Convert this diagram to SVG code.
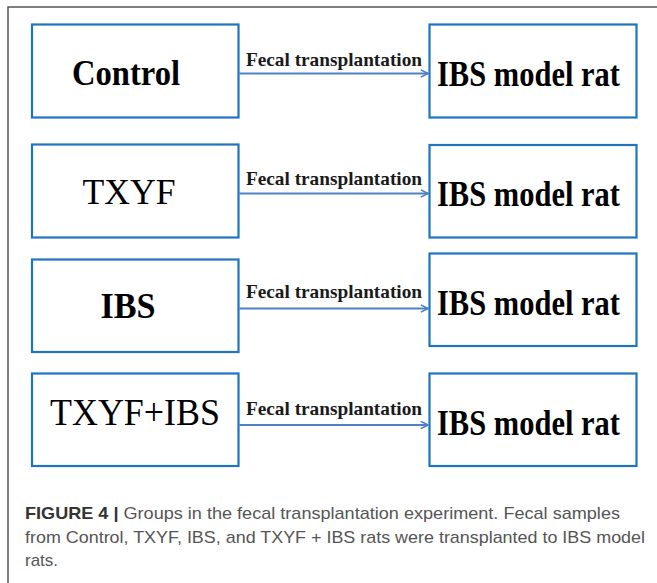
<svg xmlns="http://www.w3.org/2000/svg" width="657" height="583" viewBox="0 0 657 583">
<defs>
<style>
.box{fill:#fff;stroke:#1f74c0;stroke-width:2.2}
.src{font-family:"Liberation Serif","Times New Roman",serif;fill:#000;text-anchor:middle}
.dst{font-family:"Liberation Serif","Times New Roman",serif;font-weight:bold;font-size:35px;fill:#000}
.lbl{font-family:"Liberation Serif","Times New Roman",serif;font-weight:bold;font-size:19px;fill:#1a1a1a}
.arr{stroke:#4f81c4;stroke-width:2;fill:none;marker-end:url(#ah)}
.cap{font-family:"Liberation Sans",Arial,sans-serif;font-size:17px;fill:#555}
</style>
<marker id="ah" viewBox="0 0 10 10" refX="9" refY="5" markerWidth="4.5" markerHeight="4.5" orient="auto" markerUnits="strokeWidth">
<path d="M1,1 L9,5 L1,9" fill="none" stroke="#4f81c4" stroke-width="1.8"/>
</marker>
</defs>
<rect width="657" height="583" fill="#fff"/>
<path d="M8,583 V7 H657" fill="none" stroke="#555" stroke-width="1.5"/>

<g id="control">
<rect class="box" x="32" y="24.5" width="206.5" height="93"/>
<text class="src" x="126" y="85" font-size="35" font-weight="bold" textLength="108" lengthAdjust="spacingAndGlyphs">Control</text>
</g>
<g id="txyf">
<rect class="box" x="32" y="144.5" width="206.5" height="93"/>
<text class="src" x="129" y="204" font-size="36" textLength="93" lengthAdjust="spacingAndGlyphs">TXYF</text>
</g>
<g id="ibs">
<rect class="box" x="32" y="259.5" width="206.5" height="92.5"/>
<text class="src" x="128" y="318" font-size="35" font-weight="bold" textLength="55" lengthAdjust="spacingAndGlyphs">IBS</text>
</g>
<g id="txyf-ibs">
<rect class="box" x="32" y="373.5" width="206.5" height="92.5"/>
<text class="src" x="135" y="425" font-size="37" textLength="170" lengthAdjust="spacingAndGlyphs">TXYF+IBS</text>
</g>

<g id="rat1">
<rect class="box" x="429.5" y="24.5" width="207" height="93"/>
<text class="dst" x="437" y="86" textLength="183" lengthAdjust="spacingAndGlyphs">IBS model rat</text>
</g>
<g id="rat2">
<rect class="box" x="429.5" y="145" width="207" height="92.5"/>
<text class="dst" x="437" y="206" textLength="183" lengthAdjust="spacingAndGlyphs">IBS model rat</text>
</g>
<g id="rat3">
<rect class="box" x="429.5" y="253.5" width="207" height="92.5"/>
<text class="dst" x="437" y="315" textLength="183" lengthAdjust="spacingAndGlyphs">IBS model rat</text>
</g>
<g id="rat4">
<rect class="box" x="429.5" y="373.5" width="207" height="92.5"/>
<text class="dst" x="437" y="435" textLength="183" lengthAdjust="spacingAndGlyphs">IBS model rat</text>
</g>

<g id="connectors">
<line class="arr" x1="239.5" y1="73.5" x2="428" y2="73.5"/>
<line class="arr" x1="239.5" y1="193.5" x2="428" y2="193.5"/>
<line class="arr" x1="239.5" y1="308.5" x2="428" y2="308.5"/>
<line class="arr" x1="239.5" y1="425" x2="428" y2="425"/>
<text class="lbl" x="246" y="66" textLength="176" lengthAdjust="spacingAndGlyphs">Fecal transplantation</text>
<text class="lbl" x="246" y="185" textLength="176" lengthAdjust="spacingAndGlyphs">Fecal transplantation</text>
<text class="lbl" x="246" y="298" textLength="176" lengthAdjust="spacingAndGlyphs">Fecal transplantation</text>
<text class="lbl" x="246" y="415" textLength="176" lengthAdjust="spacingAndGlyphs">Fecal transplantation</text>
</g>

<g id="caption">
<text class="cap" x="25" y="519" textLength="595" lengthAdjust="spacingAndGlyphs"><tspan font-weight="bold" fill="#333">FIGURE 4 |</tspan> Groups in the fecal transplantation experiment. Fecal samples</text>
<text class="cap" x="25" y="543" textLength="620" lengthAdjust="spacingAndGlyphs">from Control, TXYF, IBS, and TXYF + IBS rats were transplanted to IBS model</text>
<text class="cap" x="25" y="566">rats.</text>
</g>
</svg>
